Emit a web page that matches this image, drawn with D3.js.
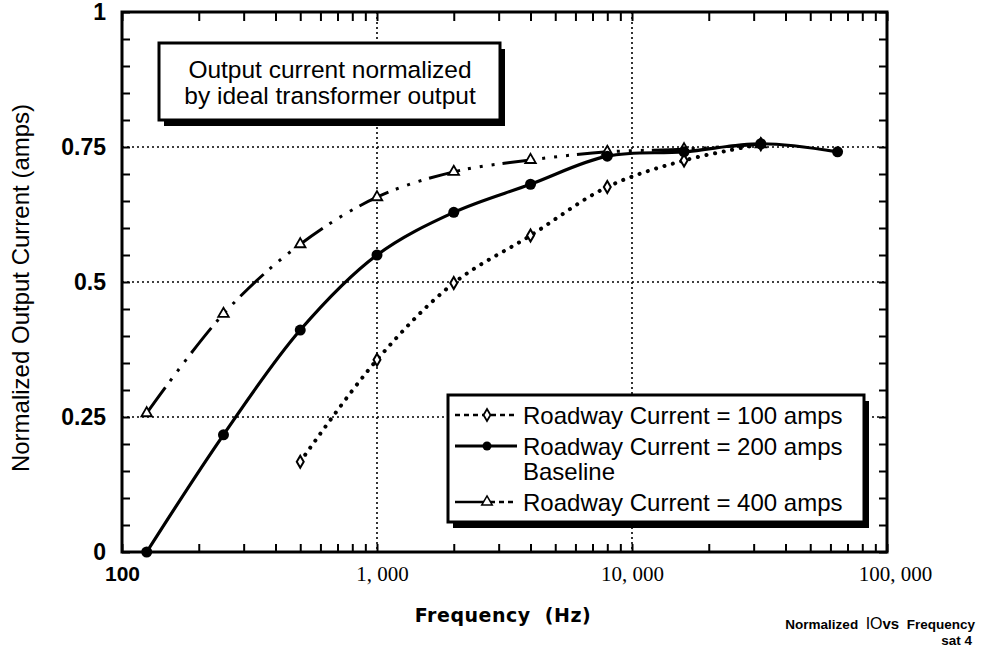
<!DOCTYPE html>
<html>
<head>
<meta charset="utf-8">
<script src="https://cdn.jsdelivr.net/npm/d3@7"></script>
<style>
  html, body { margin: 0; padding: 0; background: #fff; }
  svg { display: block; }
  .ytick text { font-family: "Liberation Sans", Arial, sans-serif; font-weight: bold; font-size: 23px; fill: #000; }
  .xtick text { font-size: 21px; fill: #000; }
</style>
</head>
<body>
<svg id="chart" width="983" height="652"></svg>
<script>
// Octave test frequencies (Hz)
const freqs = [125, 250, 500, 1000, 2000, 4000, 8000, 16000, 32000, 64000];

// Normalized output current for each roadway current
const amps100Freqs  = [500, 1000, 2000, 4000, 8000, 16000, 32000];
const amps100Values = [0.167, 0.356, 0.498, 0.586, 0.676, 0.725, 0.755];

const amps200Freqs  = freqs;
const amps200Values = [0.0, 0.217, 0.411, 0.550, 0.629, 0.681, 0.733, 0.741, 0.756, 0.741];

const amps400Freqs  = [125, 250, 500, 1000, 2000, 4000, 8000, 16000, 32000];
const amps400Values = [0.257, 0.441, 0.570, 0.657, 0.704, 0.726, 0.741, 0.746, 0.755];

const yTickLabels = [0, 0.25, 0.5, 0.75, 1];
const xTickLabels = [100, 1000, 10000, 100000];
const xLabelText  = {100: "100", 1000: "1, 000", 10000: "10, 000", 100000: "100, 000"};

const legendLabels = [
  "Roadway Current = 100 amps",
  "Roadway Current = 200 amps",
  "Baseline",
  "Roadway Current = 400 amps"
];
const titleLines = ["Output current normalized", "by ideal transformer output"];

const svg = d3.select("#chart");
const plot = {left: 122, right: 887, top: 12, bottom: 552};

const x = d3.scaleLog().domain([100, 100000]).range([plot.left, plot.right]);
const y = d3.scaleLinear().domain([0, 1]).range([plot.bottom, plot.top]);

// minor tick positions on the log axis
const xMinor = [];
[100, 1000, 10000].forEach(dec => { for (let k = 1; k <= 9; k++) xMinor.push(dec * k); });
xMinor.push(100000);
const yMinor = d3.range(0, 1.0001, 0.05).map(v => +v.toFixed(2));

// dotted grid
const grid = svg.append("g").attr("stroke", "#000").attr("stroke-width", 1.6)
  .attr("stroke-dasharray", "2 3").attr("fill", "none");
[0.25, 0.5, 0.75].forEach(v => grid.append("line")
  .attr("x1", plot.left).attr("x2", plot.right).attr("y1", y(v)).attr("y2", y(v)));
[1000, 10000].forEach(v => grid.append("line")
  .attr("x1", x(v)).attr("x2", x(v)).attr("y1", plot.top).attr("y2", plot.bottom));

// axes: ticks point into the plot
const bottomAxis = svg.append("g").attr("class", "xtick")
  .attr("transform", `translate(0,${plot.bottom})`)
  .call(d3.axisBottom(x).tickValues(xMinor).tickSizeInner(-8).tickSizeOuter(0).tickPadding(14)
    .tickFormat(d => xLabelText[d] || ""));
bottomAxis.selectAll("text")
  .attr("font-family", d => d === 100 ? "'Liberation Sans', Arial, sans-serif" : "'Liberation Serif', 'Times New Roman', serif")
  .attr("font-weight", d => d === 100 ? "bold" : "normal")
  .attr("dx", d => d === 1000 ? 5 : d === 100000 ? 8 : 0);

svg.append("g").attr("transform", `translate(0,${plot.top})`)
  .call(d3.axisTop(x).tickValues(xMinor).tickSizeInner(-9).tickSizeOuter(0).tickFormat(""));

svg.append("g").attr("class", "ytick")
  .attr("transform", `translate(${plot.left},0)`)
  .call(d3.axisLeft(y).tickValues(yMinor).tickSizeInner(-8).tickSizeOuter(0).tickPadding(16)
    .tickFormat(d => yTickLabels.includes(d) ? d3.format("")(d) : ""));

svg.append("g").attr("transform", `translate(${plot.right},0)`)
  .call(d3.axisRight(y).tickValues(yMinor).tickSizeInner(-8).tickSizeOuter(0).tickFormat(""));

svg.selectAll(".domain").remove();
svg.selectAll(".tick line").attr("stroke", "#000").attr("stroke-width", 2);

// frame
svg.append("rect").attr("x", plot.left).attr("y", plot.top)
  .attr("width", plot.right - plot.left).attr("height", plot.bottom - plot.top)
  .attr("fill", "none").attr("stroke", "#000").attr("stroke-width", 3);

// curves
const line = d3.line().x(d => x(d[0])).y(d => y(d[1])).curve(d3.curveCatmullRom.alpha(0.5));
const zip = (f, v) => f.map((fr, i) => [fr, v[i]]);
const s100 = zip(amps100Freqs, amps100Values);
const s200 = zip(amps200Freqs, amps200Values);
const s400 = zip(amps400Freqs, amps400Values);

const curves = svg.append("g").attr("fill", "none").attr("stroke", "#000");
curves.append("path").datum(s100).attr("d", line)
  .attr("stroke-width", 4).attr("stroke-linecap", "round").attr("stroke-dasharray", "0.1 8.6");
curves.append("path").datum(s400).attr("d", line)
  .attr("stroke-width", 3).attr("stroke-dasharray", "32 8 3 9 3 9 3 8");
curves.append("path").datum(s200).attr("d", line)
  .attr("stroke-width", 3.2);

// markers
const diamond = d3.symbol().type(d3.symbolDiamond).size(42);
const triangle = d3.symbol().type(d3.symbolTriangle).size(48);
svg.append("g").selectAll("path").data(s100).join("path")
  .attr("d", diamond).attr("transform", d => `translate(${x(d[0])},${y(d[1])})`)
  .attr("fill", "#fff").attr("stroke", "#000").attr("stroke-width", 2);
svg.append("g").selectAll("path").data(s400).join("path")
  .attr("d", triangle).attr("transform", d => `translate(${x(d[0])},${y(d[1])})`)
  .attr("fill", "#fff").attr("stroke", "#000").attr("stroke-width", 1.8);
svg.append("g").selectAll("circle").data(s200).join("circle")
  .attr("cx", d => x(d[0])).attr("cy", d => y(d[1])).attr("r", 5.5).attr("fill", "#000");

// boxed note with drop shadow
function shadowBox(bx, by, bw, bh) {
  svg.append("rect").attr("x", bx + 5).attr("y", by + 6).attr("width", bw).attr("height", bh).attr("fill", "#000");
  svg.append("rect").attr("x", bx).attr("y", by).attr("width", bw).attr("height", bh)
    .attr("fill", "#fff").attr("stroke", "#000").attr("stroke-width", 3);
}

shadowBox(159, 43, 341, 77);
svg.append("g").selectAll("text").data(titleLines).join("text")
  .attr("x", 330).attr("y", (d, i) => 78 + i * 26)
  .attr("text-anchor", "middle")
  .attr("font-family", "'Liberation Sans', Arial, sans-serif").attr("font-size", 24.5)
  .text(d => d);

// legend
shadowBox(448, 395, 416, 127);
const lg = svg.append("g").attr("font-family", "'Liberation Sans', Arial, sans-serif").attr("font-size", 24);
const rowY = [415, 446, 471, 502];
lg.selectAll("text").data(legendLabels).join("text")
  .attr("x", 523).attr("y", (d, i) => rowY[i]).attr("dy", "0.36em").text(d => d);
// legend samples
lg.append("line").attr("x1", 455).attr("x2", 517).attr("y1", rowY[0]).attr("y2", rowY[0])
  .attr("stroke", "#000").attr("stroke-width", 2.5).attr("stroke-dasharray", "5 4");
lg.append("path").attr("d", diamond).attr("transform", `translate(487,${rowY[0]})`)
  .attr("fill", "#fff").attr("stroke", "#000").attr("stroke-width", 1.8);
lg.append("line").attr("x1", 455).attr("x2", 517).attr("y1", rowY[1]).attr("y2", rowY[1])
  .attr("stroke", "#000").attr("stroke-width", 3);
lg.append("circle").attr("cx", 487).attr("cy", rowY[1]).attr("r", 4.5).attr("fill", "#000");
lg.append("line").attr("x1", 455).attr("x2", 484).attr("y1", rowY[3]).attr("y2", rowY[3])
  .attr("stroke", "#000").attr("stroke-width", 2.5);
lg.append("line").attr("x1", 490).attr("x2", 517).attr("y1", rowY[3]).attr("y2", rowY[3])
  .attr("stroke", "#000").attr("stroke-width", 2.5).attr("stroke-dasharray", "5 4");
lg.append("path").attr("d", triangle).attr("transform", `translate(487,${rowY[3]})`)
  .attr("fill", "#fff").attr("stroke", "#000").attr("stroke-width", 1.5);

// axis titles
svg.append("text").attr("transform", "translate(29,288) rotate(-90)")
  .attr("text-anchor", "middle")
  .attr("font-family", "'Liberation Sans', Arial, sans-serif").attr("font-size", 24)
  .text("Normalized Output Current (amps)");

svg.append("text").attr("x", 503).attr("y", 622).attr("text-anchor", "middle")
  .attr("font-family", "'DejaVu Sans', sans-serif").attr("font-weight", "bold").attr("font-size", 19)
  .attr("letter-spacing", 0.5).attr("xml:space", "preserve")
  .text("Frequency  (Hz)");

// footnote
const foot = svg.append("text").attr("x", 975).attr("y", 629).attr("text-anchor", "end")
  .attr("font-family", "'Liberation Sans', Arial, sans-serif").attr("font-weight", "bold").attr("font-size", 13.5)
  .attr("xml:space", "preserve");
foot.append("tspan").text("Normalized  ");
foot.append("tspan").attr("font-weight", "normal").attr("font-size", 16).text("IO");
foot.append("tspan").attr("font-size", 15).text("vs");
foot.append("tspan").text("  Frequency");
svg.append("text").attr("x", 972).attr("y", 645).attr("text-anchor", "end")
  .attr("font-family", "'Liberation Sans', Arial, sans-serif").attr("font-weight", "bold").attr("font-size", 13.5)
  .text("sat 4");
</script>
</body>
</html>
